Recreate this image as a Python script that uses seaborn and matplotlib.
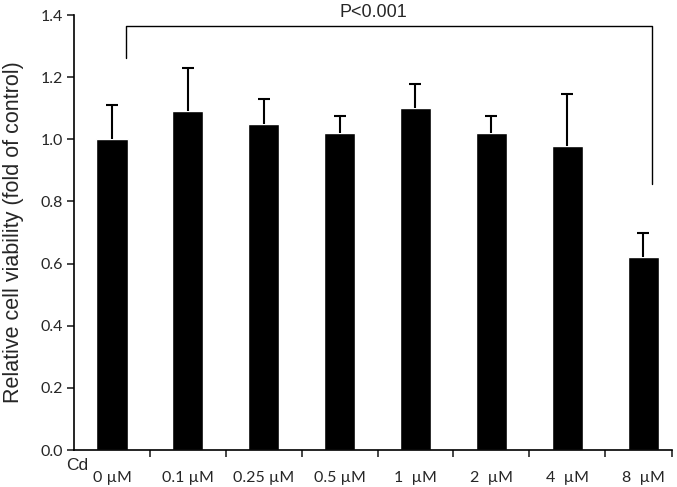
import numpy as np
import pandas as pd
import seaborn as sns
import matplotlib.pyplot as plt

# values
doses = ["0 µM", "0.1 µM", "0.25 µM", "0.5 µM", "1  µM", "2  µM", "4  µM", "8  µM"]
viability = [1.00, 1.09, 1.05, 1.02, 1.10, 1.02, 0.98, 0.62]
sd = [0.11, 0.14, 0.08, 0.055, 0.078, 0.055, 0.167, 0.077]
yticks = [0.0, 0.2, 0.4, 0.6, 0.8, 1.0, 1.2, 1.4]

df = pd.DataFrame({"dose": doses, "viability": viability})

sns.set_style("white")
plt.rcParams['font.family'] = ['Liberation Sans', 'DejaVu Sans']

fig = plt.figure(figsize=(6.77, 4.87), dpi=100)
ax = fig.add_axes([74 / 677, 37 / 487, 598 / 677, 435 / 487])

sns.barplot(data=df, x="dose", y="viability", color="black", width=0.41,
            errorbar=None, saturation=1, ax=ax)
# only the upper half of the error bar is shown
eb = ax.errorbar(np.arange(len(doses)), viability, yerr=[np.zeros(len(sd)), sd],
                 fmt="none", ecolor="black", elinewidth=1.5, capsize=4, capthick=1.5)
eb[1][0].set_visible(False)

ax.set_ylim(0, 1.4)
ax.set_xlim(-0.5, 7.38)
ax.set_yticks(yticks)
ax.set_yticklabels([f"{v:.1f}" for v in yticks], fontsize=11.5, family=['Lato', 'DejaVu Sans'])
ax.set_ylabel("Relative cell viability (fold of control)", fontsize=15.5)
ax.yaxis.set_label_coords(-0.084, 0.5)
ax.set_xlabel("")

# category labels at centres, tick marks at the boundaries
ax.set_xticks(np.arange(len(doses)))
ax.set_xticklabels(doses, fontsize=11.5, family=['Lato', 'DejaVu Sans'])
ax.set_xticks(list(np.arange(0.5, 7, 1)) + [7.38], minor=True)
ax.tick_params(axis="x", which="major", length=0, pad=15)
ax.tick_params(axis="x", which="minor", length=5, width=1.2, direction="out", bottom=True)
ax.tick_params(axis="y", length=5, width=1.2, direction="out", left=True, pad=3)

for s in ["top", "right"]:
    ax.spines[s].set_visible(False)
for s in ["left", "bottom"]:
    ax.spines[s].set_color("black")
    ax.spines[s].set_linewidth(1.2)

# significance bracket
ax.plot([0.18, 0.18, 7.12, 7.12], [1.263, 1.366, 1.366, 0.856],
        color="black", lw=1.0, clip_on=False)
ax.text(3.45, 1.393, "P<0.001", ha="center", va="baseline", fontsize=13, clip_on=False)

fig.text(66 / 677, 1 - 458 / 487, "Cd", ha="left", va="top", fontsize=12.5)

fig.savefig("out.png", dpi=100)
